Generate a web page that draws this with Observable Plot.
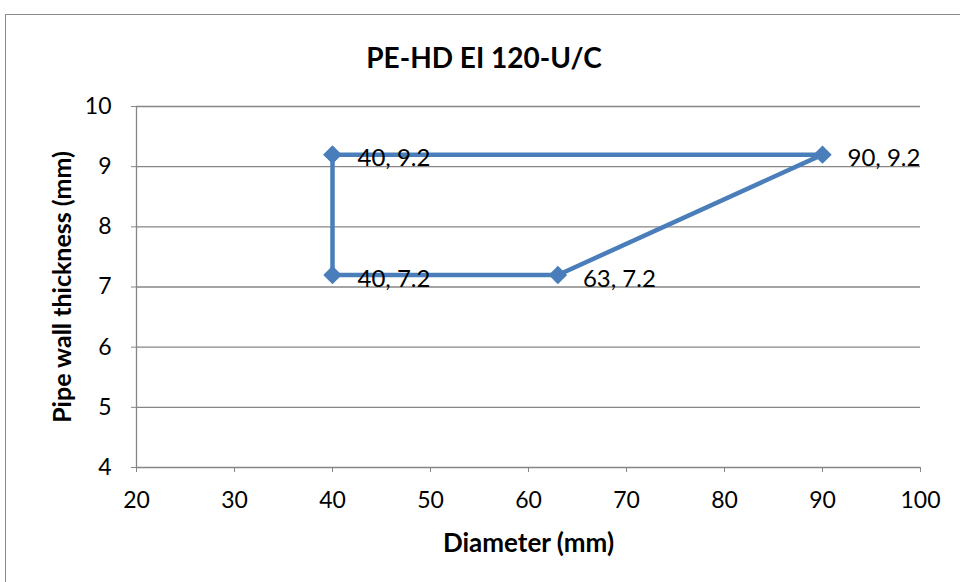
<!DOCTYPE html>
<html>
<head>
<meta charset="utf-8">
<script src="https://cdn.jsdelivr.net/npm/d3@7"></script>
<script src="https://cdn.jsdelivr.net/npm/@observablehq/plot@0.6"></script>
<style>
  html, body { margin: 0; padding: 0; background: #fff; }
  #wrap { position: relative; width: 960px; height: 582px; overflow: hidden; font-family: Lato, "Open Sans", sans-serif; }
  #frame { position: absolute; left: 5px; top: 14px; width: 970px; height: 600px; border: 1px solid #898989; box-sizing: border-box; }
  #title { position: absolute; left: 5px; width: 958px; top: 40px; line-height: 34px; text-align: center; font-weight: bold; font-size: 28px; color: #000; }
  #chart { position: absolute; left: 0; top: 0; }
</style>
</head>
<body>
<div id="wrap">
  <div id="frame"></div>
  <div id="title">PE-HD EI 120-U/C</div>
  <div id="chart"></div>
</div>
<script>
const diameter = [40, 90, 63, 40, 40];
const thickness = [9.2, 9.2, 7.2, 7.2, 9.2];
const labelDiameter = [40, 90, 63, 40];
const labelThickness = [9.2, 9.2, 7.2, 7.2];
const xTicks = [20, 30, 40, 50, 60, 70, 80, 90, 100];
const yTicks = [4, 5, 6, 7, 8, 9, 10];

const pts = diameter.map((d, i) => ({x: d, y: thickness[i]}));
const labels = labelDiameter.map((d, i) => ({x: d, y: labelThickness[i], t: `${d}, ${labelThickness[i]}`}));

const blue = "#4a7ebb";
const grid = "#868686";

const chart = Plot.plot({
  width: 960,
  height: 582,
  marginLeft: 136,
  marginRight: 40,
  marginTop: 106,
  marginBottom: 115,
  style: {fontFamily: "Lato, 'Open Sans', sans-serif", background: "transparent"},
  x: {domain: [20, 100]},
  y: {domain: [4, 10]},
  marks: [
    Plot.ruleY(yTicks, {stroke: grid, strokeWidth: 1.3, x1: 20, x2: 100}),
    Plot.ruleX([20], {stroke: grid, strokeWidth: 1.3}),
    Plot.axisY({ticks: yTicks, tickSize: 5, tickPadding: 20, stroke: grid, fontSize: 23, fill: "#000", label: null, tickFormat: d => String(d)}),
    Plot.axisX({ticks: xTicks, tickSize: 5, tickPadding: 19, stroke: grid, fontSize: 23, fill: "#000", label: null, tickFormat: d => String(d)}),
    Plot.line(pts, {x: "x", y: "y", stroke: blue, strokeWidth: 4.5, curve: "linear"}),
    Plot.dot(pts, {x: "x", y: "y", symbol: "diamond2", r: 8.3, fill: blue, stroke: null}),
    Plot.text(labels, {x: "x", y: "y", text: "t", textAnchor: "start", dx: 25, dy: 4, fontSize: 24, fill: "#000"}),
    Plot.text(["Pipe wall thickness (mm)"], {frameAnchor: "left", textAnchor: "middle", lineAnchor: "middle", dx: -74, rotate: -90, fontSize: 25, fontWeight: "bold", fill: "#000"}),
    Plot.text(["Diameter (mm)"], {frameAnchor: "bottom", textAnchor: "middle", lineAnchor: "middle", dy: 76, fontSize: 26, fontWeight: "bold", fill: "#000"})
  ]
});
document.getElementById("chart").appendChild(chart);
</script>
</body>
</html>
